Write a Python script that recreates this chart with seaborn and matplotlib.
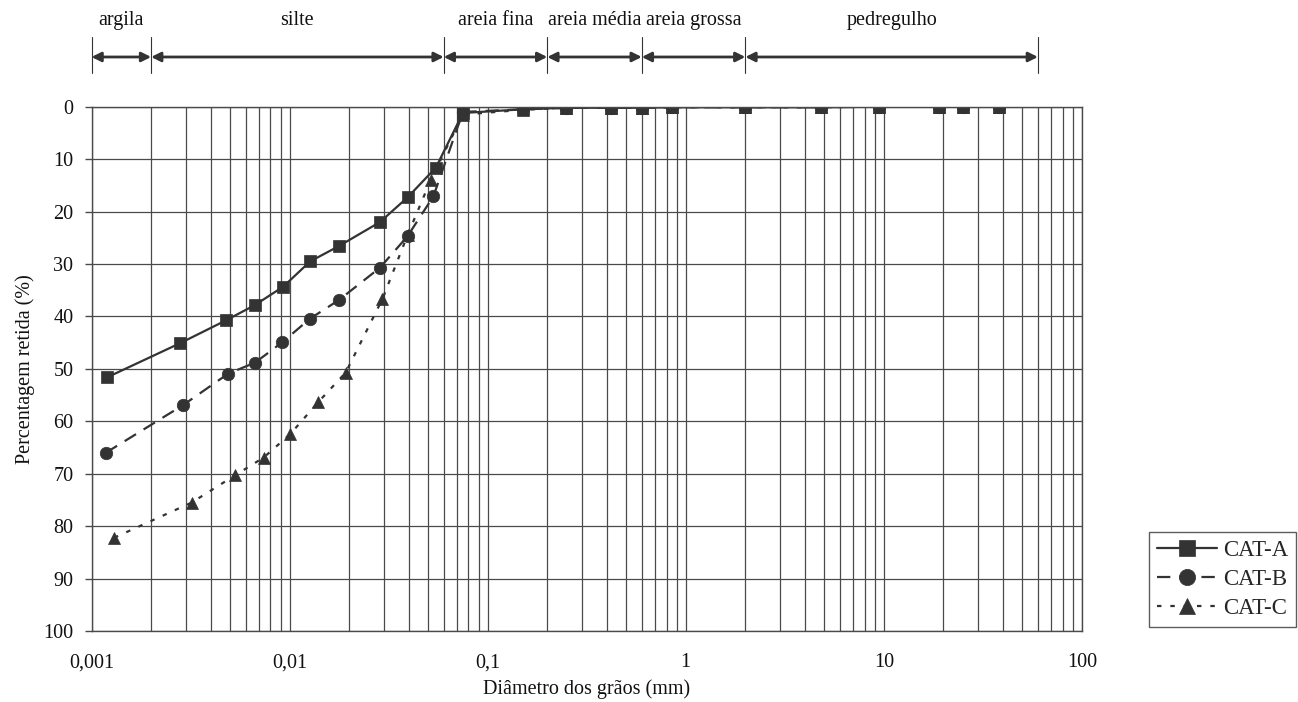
import matplotlib
matplotlib.use("Agg")
import matplotlib.pyplot as plt
import matplotlib.transforms as mtransforms
from matplotlib.ticker import LogLocator, FixedLocator, FuncFormatter, NullFormatter
import seaborn as sns

# grain size curves (diameter in mm, percentage retained)
a_diam = [0.0012, 0.0028, 0.0048, 0.0067, 0.0093, 0.0127, 0.0177, 0.0286, 0.0394, 0.0548,
          0.075, 0.15, 0.25, 0.42, 0.6, 0.85, 2.0, 4.8, 9.5, 19, 25, 38]
a_pct = [51.6, 45.1, 40.7, 37.8, 34.3, 29.5, 26.6, 22.0, 17.3, 11.6,
         1.2, 0.5, 0.2, 0.2, 0.2, 0.1, 0.1, 0.1, 0.0, 0.0, 0.0, 0.0]

b_diam = [0.00118, 0.0029, 0.0049, 0.0067, 0.0092, 0.0127, 0.0177, 0.0286, 0.0394, 0.0532,
          0.075, 0.15, 0.25, 0.42, 0.6, 0.85, 2.0, 4.8, 9.5, 19, 25, 38]
b_pct = [66.0, 56.9, 50.9, 48.8, 44.9, 40.4, 36.9, 30.7, 24.7, 17.1,
         1.0, 0.5, 0.2, 0.2, 0.2, 0.1, 0.1, 0.1, 0.0, 0.0, 0.0, 0.0]

c_diam = [0.0013, 0.0032, 0.0053, 0.0074, 0.0101, 0.0139, 0.0192, 0.0294, 0.0394, 0.0517,
          0.075, 0.15, 0.25, 0.42, 0.6, 0.85, 2.0, 4.8, 9.5, 19, 25, 38]
c_pct = [82.2, 75.5, 70.3, 66.9, 62.4, 56.4, 50.7, 36.7, 24.5, 13.9,
         1.5, 0.6, 0.2, 0.2, 0.2, 0.1, 0.1, 0.1, 0.0, 0.0, 0.0, 0.0]

# soil classes (limits in mm)
class_names = ["argila", "silte", "areia fina", "areia média", "areia grossa", "pedregulho"]
class_limits = [0.001, 0.002, 0.06, 0.2, 0.6, 2.0, 60.0]

INK = "#333333"
GRID = "#4a4a4a"
TXT = "#111111"
FS = 14.5

sns.set_theme(style="white")
plt.rcParams["font.family"] = ["Liberation Serif", "DejaVu Serif"]
plt.rcParams["font.size"] = FS

fig = plt.figure(figsize=(12.98, 7.02), dpi=100)
ax = fig.add_axes([0.0705, 0.101, 0.763, 0.747])
ax.set_xscale("log")

series = [
    ("CAT-A", a_diam, a_pct, "s", "-"),
    ("CAT-B", b_diam, b_pct, "o", (0, (6, 4))),
    ("CAT-C", c_diam, c_pct, "^", (0, (2, 4))),
]
for name, xs, ys, mk, ls in series:
    sns.lineplot(x=xs, y=ys, ax=ax, color=INK, marker=mk, markersize=9,
                 markeredgecolor=INK, markeredgewidth=0.5, linestyle=ls,
                 linewidth=1.6, label=name, sort=False)

ax.set_xlim(0.001, 100)
ax.set_ylim(100, 0)
ax.yaxis.set_major_locator(FixedLocator(range(0, 101, 10)))
ax.xaxis.set_major_locator(LogLocator(base=10, numticks=10))
ax.xaxis.set_minor_locator(LogLocator(base=10, subs=range(2, 10), numticks=50))
ax.xaxis.set_major_formatter(FuncFormatter(lambda v, p: f"{v:g}".replace(".", ",")))
ax.xaxis.set_minor_formatter(NullFormatter())

ax.grid(True, which="both", axis="x", color=GRID, linewidth=0.9)
ax.grid(True, which="major", axis="y", color=GRID, linewidth=0.9)
ax.set_axisbelow(True)
for sp in ax.spines.values():
    sp.set_color(GRID)
    sp.set_linewidth(1.0)

ax.tick_params(axis="x", which="both", length=0, pad=16, labelsize=FS, labelcolor=TXT)
ax.tick_params(axis="y", which="major", length=5, width=1, direction="out",
               left=True, pad=8, labelsize=FS, colors=GRID, labelcolor=TXT)

ax.set_xlabel("Diâmetro dos grãos (mm)", fontsize=FS, labelpad=5, color=TXT)
ax.set_ylabel("Percentagem retida (%)", fontsize=FS, labelpad=6, color=TXT)

# class bands above the plot
trans = mtransforms.blended_transform_factory(ax.transData, ax.transAxes)
for lim in class_limits:
    ax.plot([lim, lim], [1.064, 1.133], transform=trans, color=INK,
            linewidth=0.8, clip_on=False)
for i, name in enumerate(class_names):
    lo, hi = class_limits[i], class_limits[i + 1]
    ax.annotate("", xy=(hi, 1.0948), xytext=(lo, 1.0948), xycoords=trans,
                textcoords=trans,
                arrowprops=dict(arrowstyle="<|-|>", color=INK, lw=2.0,
                                mutation_scale=14, shrinkA=0, shrinkB=0))
    mid = (lo * hi) ** 0.5
    ax.text(mid, 1.165, name, transform=trans, ha="center", va="center",
            fontsize=FS, color=TXT)

leg = ax.legend(loc="lower right", bbox_to_anchor=(0.9985, 0.1068),
                bbox_transform=fig.transFigure, frameon=True, fancybox=False,
                edgecolor=INK, fontsize=16.5, handlelength=2.6, markerscale=1.3,
                handletextpad=0.25, borderpad=0.35, labelspacing=0.35,
                borderaxespad=0)
leg.get_frame().set_linewidth(1.0)

fig.savefig("out.png", dpi=100)
